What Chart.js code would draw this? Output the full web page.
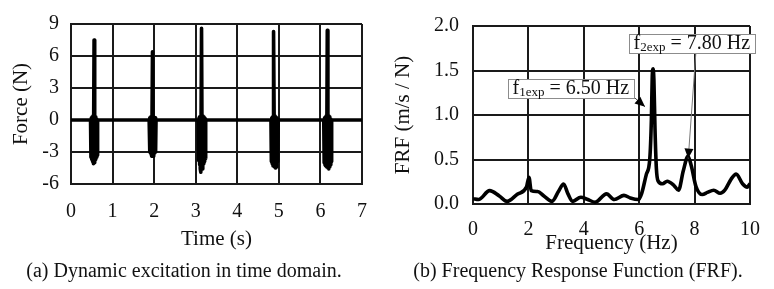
<!DOCTYPE html>
<html>
<head>
<meta charset="utf-8">
<script src="https://cdn.jsdelivr.net/npm/chart.js@4.4.1/dist/chart.umd.min.js"></script>
<style>
html,body{margin:0;padding:0;background:#fff;width:774px;height:289px;overflow:hidden}
#wa{position:absolute;left:0;top:0;width:387px;height:262px}
#wb{position:absolute;left:387px;top:0;width:387px;height:262px}
.cap{position:absolute;top:258px;font-family:"Liberation Serif","Times New Roman",serif;font-size:20px;line-height:24px;color:#111;white-space:nowrap;transform:translateX(-50%)}
</style>
</head>
<body>
<div id="wa"><canvas id="ca" width="387" height="262"></canvas></div>
<div id="wb"><canvas id="cb" width="387" height="262"></canvas></div>
<div class="cap" style="left:184px">(a) Dynamic excitation in time domain.</div>
<div class="cap" style="left:578px">(b) Frequency Response Function (FRF).</div>
<script>
// ---------- data: (a) force vs time ----------
const timeS = [
  0,
  0.47, 0.48, 0.49, 0.50, 0.51, 0.52, 0.53, 0.54, 0.555, 0.57, 0.58, 0.59, 0.60, 0.61, 0.62, 0.63, 0.64,
  1.88, 1.89, 1.90, 1.91, 1.92, 1.93, 1.94, 1.945, 1.96, 1.975, 1.985, 1.995, 2.005, 2.015, 2.025, 2.035, 2.045,
  3.06, 3.07, 3.08, 3.09, 3.10, 3.11, 3.12, 3.125, 3.14, 3.155, 3.165, 3.175, 3.185, 3.195, 3.205, 3.215, 3.225, 3.235, 3.245,
  4.81, 4.82, 4.83, 4.84, 4.85, 4.86, 4.865, 4.88, 4.895, 4.905, 4.915, 4.925, 4.935, 4.945, 4.955, 4.965, 4.975, 4.985,
  6.08, 6.09, 6.10, 6.11, 6.12, 6.13, 6.14, 6.15, 6.165, 6.18, 6.19, 6.20, 6.21, 6.22, 6.23, 6.24, 6.25, 6.26, 6.27,
  7
];
const forceN = [
  0,
  0, -3.5, 0.2, -3.7, 0.3, -3.9, 0.4, -4.1, 7.5, -4.0, 0.3, -3.7, 0.2, -3.5, 0.1, -3.3, 0,
  0, -3.0, 0.2, -3.1, 0.3, -3.2, 0.3, -3.4, 6.4, -3.4, 0.3, -3.2, 0.2, -3.1, 0.2, -3.0, 0,
  0, -3.8, 0.2, -4.2, 0.3, -4.6, 0.4, -4.9, 8.6, -4.6, 0.4, -4.3, 0.3, -4.1, 0.2, -3.9, 0.1, -3.6, 0,
  0, -3.9, 0.2, -4.1, 0.3, -4.3, 0.4, 8.3, -4.4, 0.4, -4.5, 0.3, -4.4, 0.2, -4.2, 0.1, -3.9, 0,
  0, -4.0, 0.2, -4.2, 0.3, -4.3, 0.4, -4.4, 8.4, -4.5, 0.4, -4.6, 0.3, -4.4, 0.2, -4.2, 0.1, -3.9, 0,
  0
];
const timeTicks = [0, 1, 2, 3, 4, 5, 6, 7];
const forceTicks = [-6, -3, 0, 3, 6, 9];

// ---------- data: (b) FRF vs frequency ----------
const freqHz = [0, 0.2, 0.6, 0.95, 1.23, 1.6, 1.93, 2.02, 2.1, 2.33, 2.56, 2.85, 3.1, 3.27, 3.42, 3.6, 3.89, 4.12, 4.41,
  4.82, 5.1, 5.45, 5.68, 5.97, 6.09, 6.26, 6.38, 6.44, 6.47, 6.5, 6.53, 6.57, 6.62, 6.68, 6.84, 7.01, 7.25, 7.42, 7.59, 7.76,
  7.88, 8.05, 8.28, 8.46, 8.69, 8.92, 9.09, 9.32, 9.5, 9.73, 9.9, 10];
const frfVal = [0.06, 0.05, 0.15, 0.09, 0.03, 0.11, 0.19, 0.30, 0.15, 0.14, 0.09, 0.03, 0.15, 0.225, 0.12, 0.03, 0.076, 0.054, 0.02,
  0.114, 0.05, 0.097, 0.068, 0.05, 0.12, 0.336, 0.5, 0.95, 1.42, 1.52, 1.4, 0.85, 0.4, 0.26, 0.227, 0.256, 0.21, 0.155, 0.37, 0.535,
  0.43, 0.196, 0.106, 0.13, 0.155, 0.12, 0.155, 0.28, 0.336, 0.227, 0.19, 0.23];
const freqTicks = [0, 2, 4, 6, 8, 10];
const frfTicks = [0.0, 0.5, 1.0, 1.5, 2.0];

// ---------- peak annotations ----------
const peakSymbol = ['f', 'f'];
const peakSub = ['1exp', '2exp'];
const peakFreqText = ['6.50', '7.80'];

// ---------- styling ----------
const FAM = '"Liberation Serif","Times New Roman",serif';
const INK = '#111';
const GRID = '#1a1a1a';
Chart.defaults.font.family = FAM;
Chart.defaults.color = INK;

function tickSetter(arr) {
  return function (s) { s.ticks = arr.map(v => ({ value: v })); };
}

function commonScale(extra) {
  return Object.assign({
    type: 'linear',
    grid: { color: GRID, lineWidth: 2, drawTicks: false },
    border: { color: GRID, width: 2 }
  }, extra);
}

// ---------- chart (a) ----------
new Chart(document.getElementById('ca'), {
  type: 'line',
  data: {
    datasets: [{
      data: timeS.map((t, i) => ({ x: t, y: forceN[i] })),
      borderColor: '#000',
      borderWidth: 3.6,
      borderJoinStyle: 'round',
      borderCapStyle: 'round',
      pointRadius: 0,
      tension: 0,
      fill: false
    }]
  },
  options: {
    responsive: false,
    animation: false,
    devicePixelRatio: 1,
    layout: { padding: { left: 0, right: 25, top: 15, bottom: 0 } },
    plugins: { legend: { display: false }, tooltip: { enabled: false } },
    scales: {
      x: commonScale({
        min: 0, max: 7,
        afterBuildTicks: tickSetter(timeTicks),
        ticks: { padding: 16, font: { size: 20 }, color: INK, maxRotation: 0 },
        title: { display: true, text: 'Time (s)', font: { size: 21 }, color: INK, padding: { top: 0, bottom: 10 } },
        afterFit: s => { s.height = 78; }
      }),
      y: commonScale({
        min: -6, max: 9,
        afterBuildTicks: tickSetter(forceTicks),
        ticks: { padding: 12, font: { size: 20 }, color: INK },
        title: { display: true, text: 'Force (N)', font: { size: 21 }, color: INK, padding: { top: 9, bottom: 0 } },
        afterFit: s => { s.width = 71; }
      })
    }
  }
});

// ---------- annotation plugin for (b) ----------
const peakNotes = {
  id: 'peakNotes',
  afterDatasetsDraw(chart, args, opts) {
    const ctx = chart.ctx, xs = chart.scales.x, ys = chart.scales.y;
    ctx.save();
    opts.notes.forEach((n, i) => {
      const main = peakSymbol[i], sub = peakSub[i], rest = ' = ' + peakFreqText[i] + ' Hz';
      ctx.font = '20px ' + FAM;
      const wMain = ctx.measureText(main).width, wRest = ctx.measureText(rest).width;
      ctx.font = '13px ' + FAM;
      const wSub = ctx.measureText(sub).width;
      const bx = Math.round(xs.getPixelForValue(n.boxX)), by = Math.round(ys.getPixelForValue(n.boxY));
      const w = Math.round(wMain + wSub + wRest + 2 * opts.padX), h = opts.boxH;
      // arrow
      const x0 = xs.getPixelForValue(n.fromX), y0 = ys.getPixelForValue(n.fromY);
      const x1 = xs.getPixelForValue(n.toX), y1 = ys.getPixelForValue(n.toY);
      ctx.strokeStyle = n.lineColor; ctx.lineWidth = 1;
      ctx.beginPath(); ctx.moveTo(x0, y0); ctx.lineTo(x1, y1); ctx.stroke();
      const a = Math.atan2(y1 - y0, x1 - x0), L = 10, W = 4.5;
      const c = Math.cos(a), s = Math.sin(a);
      ctx.fillStyle = '#000';
      ctx.beginPath();
      ctx.moveTo(x1, y1);
      ctx.lineTo(x1 - L * c + W * s, y1 - L * s - W * c);
      ctx.lineTo(x1 - L * c - W * s, y1 - L * s + W * c);
      ctx.closePath(); ctx.fill();
      // box
      ctx.fillStyle = '#fff';
      ctx.fillRect(bx, by, w, h);
      ctx.strokeStyle = '#8c8c8c'; ctx.lineWidth = 1;
      ctx.strokeRect(bx + 0.5, by + 0.5, w, h);
      // text
      ctx.fillStyle = INK; ctx.textBaseline = 'alphabetic'; ctx.textAlign = 'left';
      let tx = bx + opts.padX; const base = by + opts.baseline;
      ctx.font = '20px ' + FAM; ctx.fillText(main, tx, base); tx += wMain;
      ctx.font = '13px ' + FAM; ctx.fillText(sub, tx, base + 2); tx += wSub;
      ctx.font = '20px ' + FAM; ctx.fillText(rest, tx, base);
    });
    ctx.restore();
  }
};

// ---------- chart (b) ----------
new Chart(document.getElementById('cb'), {
  type: 'line',
  data: {
    datasets: [{
      data: freqHz.map((f, i) => ({ x: f, y: frfVal[i] })),
      borderColor: '#000',
      borderWidth: 3.6,
      borderJoinStyle: 'round',
      pointRadius: 0,
      cubicInterpolationMode: 'monotone',
      fill: false
    }]
  },
  plugins: [peakNotes],
  options: {
    responsive: false,
    animation: false,
    devicePixelRatio: 1,
    layout: { padding: { left: 0, right: 12.5, top: 19, bottom: 0 } },
    plugins: {
      legend: { display: false }, tooltip: { enabled: false },
      peakNotes: {
        padX: 4.5, boxH: 19, baseline: 15,
        notes: [
          { boxX: 1.276, boxY: 1.407, fromX: 5.64, fromY: 1.245, toX: 6.21, toY: 1.094, lineColor: '#444' },
          { boxX: 5.63, boxY: 1.915, fromX: 8.05, fromY: 1.72, toX: 7.77, toY: 0.51, lineColor: '#777' }
        ]
      }
    },
    scales: {
      x: commonScale({
        min: 0, max: 10,
        afterBuildTicks: tickSetter(freqTicks),
        ticks: { padding: 14, font: { size: 20 }, color: INK, maxRotation: 0 },
        title: { display: true, text: 'Frequency (Hz)', font: { size: 21 }, color: INK, padding: { top: 0, bottom: 6 } },
        afterFit: s => { s.height = 58; }
      }),
      y: commonScale({
        min: 0, max: 2,
        afterBuildTicks: tickSetter(frfTicks),
        ticks: { padding: 14, font: { size: 20 }, color: INK, callback: v => Number(v).toFixed(1) },
        title: { display: true, text: 'FRF (m/s / N)', font: { size: 21 }, color: INK, padding: { top: 4, bottom: 0 } },
        afterFit: s => { s.width = 86; }
      })
    }
  }
});
</script>
</body>
</html>
